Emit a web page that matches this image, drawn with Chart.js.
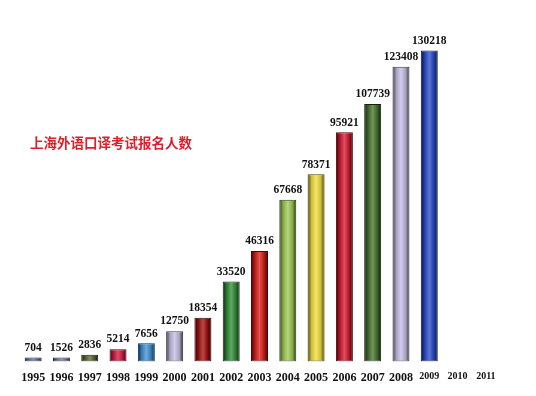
<!DOCTYPE html>
<html>
<head>
<meta charset="utf-8">
<script src="https://cdn.jsdelivr.net/npm/chart.js@4"></script>
<style>
  html, body { margin: 0; padding: 0; background: #fff; }
  #wrap { position: relative; width: 536px; height: 396px; }
  #title {
    position: absolute; left: 30px; top: 133px;
    font-family: "Noto Sans CJK SC", sans-serif; font-weight: bold;
    font-size: 13.5px; line-height: 18px; color: #dc1f2c; white-space: nowrap;
  }
</style>
</head>
<body>
<div id="wrap">
  <canvas id="main-chart" width="536" height="396"></canvas>
  <div id="title">上海外语口译考试报名人数</div>
</div>
<script>
// ── Data ──────────────────────────────────────────────────────────────────────
const YEARS = ["1995", "1996", "1997", "1998", "1999", "2000", "2001", "2002", "2003",
               "2004", "2005", "2006", "2007", "2008", "2009", "2010", "2011"];
const APPLICANTS = [704, 1526, 2836, 5214, 7656, 12750, 18354, 33520, 46316,
                    67668, 78371, 95921, 107739, 123408, 130218, null, null];
const BAR_COLORS = ["#5d6cb2", "#6b73ba", "#56652c", "#d2163e", "#3b8fd2", "#c4bce2",
                    "#a00c0c", "#2f8a34", "#d81a14", "#9cc850", "#f2dc3a", "#d2142c",
                    "#44702a", "#c4bce2", "#2646c8", "#999", "#999"];

// ── Helpers ───────────────────────────────────────────────────────────────────
function shade(hex, f) {
  const n = parseInt(hex.slice(1), 16);
  let r = (n >> 16) & 255, g = (n >> 8) & 255, b = n & 255;
  if (f < 1) { r *= f; g *= f; b *= f; }
  else { const t = f - 1; r += (255 - r) * t; g += (255 - g) * t; b += (255 - b) * t; }
  return `rgb(${Math.round(r)},${Math.round(g)},${Math.round(b)})`;
}

// cylinder look: horizontal gradient over each bar
const cylinderPlugin = {
  id: "cylinder",
  beforeDatasetsDraw(chart) {
    const c = chart.ctx;
    chart.getDatasetMeta(0).data.forEach((el, i) => {
      const base = BAR_COLORS[i];
      const x0 = el.x - el.width / 2, x1 = el.x + el.width / 2;
      const g = c.createLinearGradient(x0, 0, x1, 0);
      g.addColorStop(0, shade(base, 0.25));
      g.addColorStop(0.22, shade(base, 0.85));
      g.addColorStop(0.5, shade(base, 1.25));
      g.addColorStop(0.78, shade(base, 0.85));
      g.addColorStop(1, shade(base, 0.25));
      el.options.backgroundColor = g;
      el.options.borderColor = shade(base, 0.3);
    });
  },
};

// value labels above bars
const valueLabels = {
  id: "valueLabels",
  afterDatasetsDraw(chart) {
    const c = chart.ctx;
    c.save();
    c.font = "bold 11.5px 'Liberation Serif', serif";
    c.fillStyle = "#111";
    c.textAlign = "center";
    c.textBaseline = "bottom";
    chart.getDatasetMeta(0).data.forEach((el, i) => {
      if (APPLICANTS[i] == null) return;
      c.fillText(String(APPLICANTS[i]), el.x, el.y - 4);
    });
    c.restore();
  },
};

// ── Chart ─────────────────────────────────────────────────────────────────────
new Chart(document.getElementById("main-chart"), {
  type: "bar",
  data: {
    labels: YEARS,
    datasets: [{
      data: APPLICANTS,
      backgroundColor: BAR_COLORS,
      borderWidth: 1,
      borderSkipped: false,
      barPercentage: 0.8,
      categoryPercentage: 0.75,
      minBarLength: 4,
    }],
  },
  options: {
    responsive: false,
    animation: false,
    layout: { padding: { left: 19, right: 36, top: 27, bottom: 2 } },
    plugins: { legend: { display: false }, tooltip: { enabled: false } },
    scales: {
      x: {
        grid: { display: false, drawTicks: false },
        border: { display: false },
        ticks: {
          padding: 9,
          maxRotation: 0,
          autoSkip: false,
          color: "#111",
          font: (ctx) => ({
            family: "'Liberation Serif', serif",
            weight: "bold",
            size: ctx.index >= 14 ? 10 : 12,
          }),
        },
      },
      y: { display: false, min: 0, max: 140000 },
    },
  },
  plugins: [cylinderPlugin, valueLabels],
});
</script>
</body>
</html>
